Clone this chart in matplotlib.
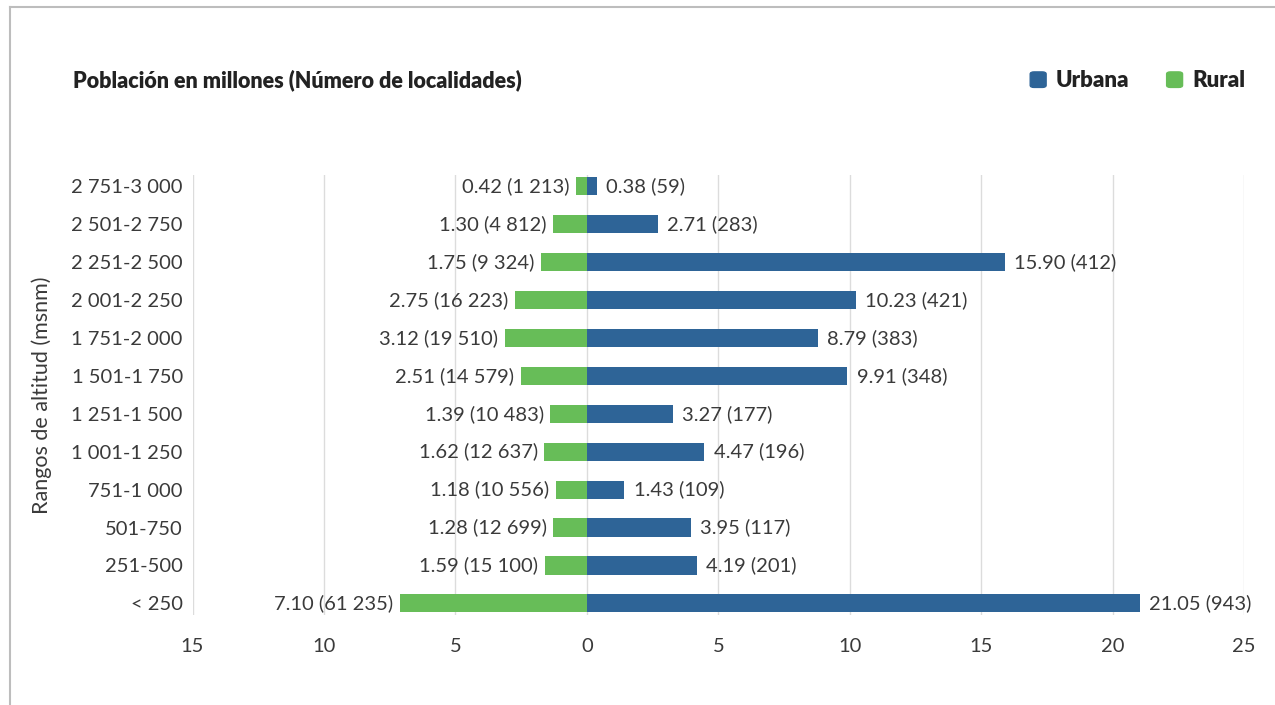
import matplotlib
matplotlib.use("Agg")
import matplotlib.pyplot as plt
from matplotlib.lines import Line2D
from matplotlib.patches import FancyBboxPatch
from matplotlib.ticker import FuncFormatter

plt.rcParams['font.family'] = ['Lato', 'DejaVu Sans']

# altitude ranges, bottom to top
rangos = ['< 250', '251-500', '501-750', '751-1 000', '1 001-1 250', '1 251-1 500',
          '1 501-1 750', '1 751-2 000', '2 001-2 250', '2 251-2 500', '2 501-2 750',
          '2 751-3 000']
urbana = [21.05, 4.19, 3.95, 1.43, 4.47, 3.27, 9.91, 8.79, 10.23, 15.90, 2.71, 0.38]
urbana_loc = ['943', '201', '117', '109', '196', '177', '348', '383', '421', '412', '283', '59']
rural = [7.10, 1.59, 1.28, 1.18, 1.62, 1.39, 2.51, 3.12, 2.75, 1.75, 1.30, 0.42]
rural_loc = ['61 235', '15 100', '12 699', '10 556', '12 637', '10 483', '14 579',
             '19 510', '16 223', '9 324', '4 812', '1 213']
xticks = [-15, -10, -5, 0, 5, 10, 15, 20, 25]

azul = '#2e6497'
verde = '#67bd58'
texto = '#3a3a3a'

fig = plt.figure(figsize=(12.75, 7.05), dpi=100)
ax = fig.add_axes([0.151, 0.128, 0.8247, 0.624])

y = list(range(len(rangos)))
ax.barh(y, urbana, height=0.48, color=azul, zorder=3)
ax.barh(y, [-v for v in rural], height=0.48, color=verde, zorder=3)

for i in y:
    ax.text(urbana[i] + 0.35, i, '%.2f (%s)' % (urbana[i], urbana_loc[i]),
            va='center', ha='left', fontsize=14.5, color=texto)
    ax.text(-rural[i] - 0.25, i, '%.2f (%s)' % (rural[i], rural_loc[i]),
            va='center', ha='right', fontsize=14.5, color=texto)

ax.set_xlim(-15, 25)
ax.set_ylim(-0.3, 11.3)
ax.set_xticks(xticks)
ax.xaxis.set_major_formatter(FuncFormatter(lambda v, p: '%d' % abs(v)))
ax.set_yticks(y)
ax.set_yticklabels(rangos)
ax.tick_params(axis='both', length=0, labelsize=14.5, colors=texto)
ax.tick_params(axis='x', pad=17)
ax.tick_params(axis='y', pad=7)
ax.grid(axis='x', color='#dcdcdc', linewidth=1, zorder=0)
for s in ax.spines.values():
    s.set_visible(False)
ax.set_ylabel('Rangos de altitud (msnm)', fontsize=15.5, color=texto, labelpad=14)

fig.text(0.057, 0.886, 'Población en millones (Número de localidades)',
         fontsize=15.5, fontweight='heavy', color='#222222', va='center')

# legend squares
for x0, col, lab in [(0.808, azul, 'Urbana'), (0.915, verde, 'Rural')]:
    fig.add_artist(FancyBboxPatch((x0, 0.876), 0.0125, 0.022,
                                  boxstyle='round,pad=0,rounding_size=0.003',
                                  transform=fig.transFigure, color=col))
    fig.text(x0 + 0.02, 0.886, lab, fontsize=16, fontweight='heavy',
             color='#222222', va='center')

# outer frame
fig.add_artist(Line2D([0.008, 1], [0.99, 0.99], color='#bdbdbd', linewidth=1.5))
fig.add_artist(Line2D([0.008, 0.008], [0, 0.99], color='#bdbdbd', linewidth=1.5))

fig.savefig('out.png', dpi=100)
